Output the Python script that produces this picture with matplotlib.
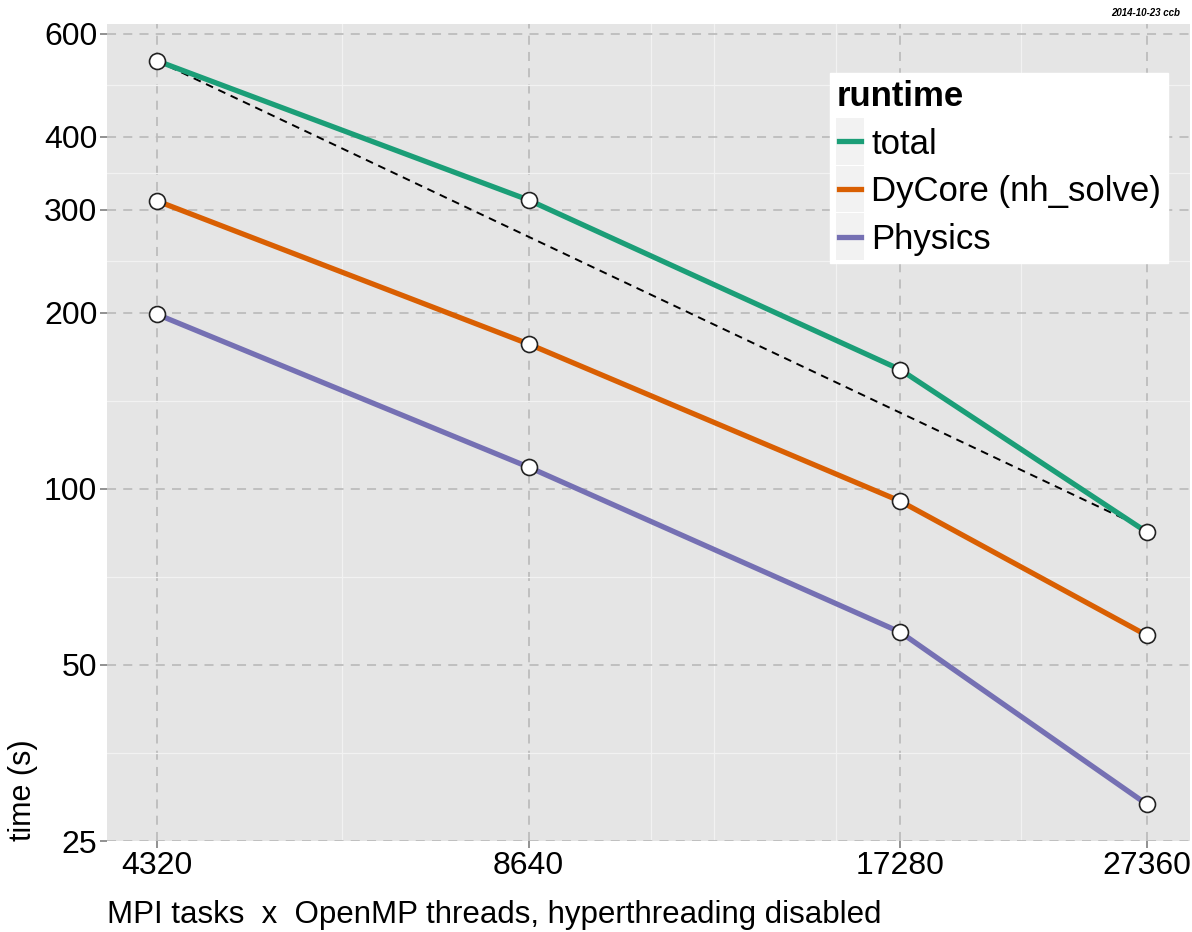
import numpy as np
import matplotlib
matplotlib.use('Agg')
import matplotlib.pyplot as plt
from matplotlib.ticker import FixedLocator, FixedFormatter, NullFormatter
from matplotlib.legend_handler import HandlerBase
from matplotlib.patches import Rectangle
from matplotlib.lines import Line2D

plt.rcParams['font.family'] = ['Liberation Sans', 'DejaVu Sans']

# dados
tarefas = [4320, 8640, 17280, 27360]
total = [540, 312, 160, 84.4]
dycore = [311, 177, 95.3, 56.2]
physics = [199, 109, 56.9, 28.9]
series = ['total', 'DyCore (nh_solve)', 'Physics']
cores = ['#1B9E77', '#D95F02', '#7570B3']

y_ticks = [25, 50, 100, 200, 300, 400, 600]
x_minor = [6100, 10850, 12210, 15340, 21650]

# escalonamento ideal a partir do primeiro ponto do total
ideal = [total[0] * tarefas[0] / t for t in tarefas]


class ChaveCinza(HandlerBase):
    # caixa cinza atras da linha, como no ggplot
    def create_artists(self, legend, orig_handle, xdescent, ydescent,
                       width, height, fontsize, trans):
        extra = 0.32 * fontsize
        r = Rectangle((-xdescent, -ydescent - extra), width, height + 2 * extra,
                      facecolor='#F2F2F2', edgecolor='none', transform=trans)
        y0 = height / 2 - ydescent
        l = Line2D([-xdescent + 0.1 * width, -xdescent + 0.9 * width], [y0, y0],
                   color=orig_handle.get_color(), linewidth=3.8, transform=trans)
        return [r, l]


fig = plt.figure(figsize=(11.92, 9.32), dpi=100)
ax = fig.add_axes([107 / 1192, 1 - 841 / 932, 1083 / 1192, 817 / 932])
ax.set_facecolor('#E5E5E5')
for s in ax.spines.values():
    s.set_visible(False)

ax.set_xscale('log')
ax.set_yscale('log')
ax.set_xlim(3937, 29660)
ax.set_ylim(25, 624)

ax.xaxis.set_major_locator(FixedLocator(tarefas))
ax.xaxis.set_minor_locator(FixedLocator(x_minor))
ax.xaxis.set_major_formatter(FixedFormatter([str(t) for t in tarefas]))
ax.xaxis.set_minor_formatter(NullFormatter())

y_minor = [np.sqrt(a * b) for a, b in zip(y_ticks[:-1], y_ticks[1:])]
ax.yaxis.set_major_locator(FixedLocator(y_ticks))
ax.yaxis.set_minor_locator(FixedLocator(y_minor))
ax.yaxis.set_major_formatter(FixedFormatter([str(t) for t in y_ticks]))
ax.yaxis.set_minor_formatter(NullFormatter())

ax.grid(which='minor', color='#F2F2F2', linewidth=0.9, linestyle='-')
ax.grid(which='major', color='#BDBDBD', linewidth=1.3, linestyle=(0, (5, 4)))
ax.set_axisbelow(True)

ax.tick_params(which='major', length=5, width=1.2, color='#7F7F7F',
               labelsize=23, labelcolor='black', pad=2)
ax.tick_params(which='minor', length=0)

ax.plot(tarefas, ideal, color='black', linewidth=1.4, linestyle=(0, (4, 3)), zorder=2)
linhas = []
for vals, nome, cor in zip([total, dycore, physics], series, cores):
    ln, = ax.plot(tarefas, vals, color=cor, linewidth=3.8, label=nome, zorder=3,
                  solid_capstyle='butt')
    linhas.append(ln)
    ax.plot(tarefas, vals, linestyle='none', marker='o', markersize=11.5,
            markerfacecolor='white', markeredgecolor='#222222', markeredgewidth=1.2,
            zorder=4)

ax.set_xlabel('MPI tasks  x  OpenMP threads, hyperthreading disabled',
              fontsize=22.5, loc='left', labelpad=14)
ax.set_ylabel('time (s)', fontsize=22, loc='bottom', labelpad=4)

leg = ax.legend(handles=linhas, loc='upper right',
                bbox_to_anchor=(1168 / 1192, 1 - 73 / 932),
                bbox_transform=fig.transFigure, title='runtime', fontsize=25,
                frameon=True, fancybox=False, handlelength=0.8, handletextpad=0.2,
                labelspacing=0.42, borderpad=0.2, borderaxespad=0,
                handler_map={Line2D: ChaveCinza()})
leg.get_title().set_fontweight('bold')
leg.get_title().set_fontsize(25)
leg._legend_box.align = 'left'
leg.get_frame().set_facecolor('white')
leg.get_frame().set_edgecolor('white')
leg.get_frame().set_alpha(1)

fig.text(1180 / 1192, 1 - 13 / 932, '2014-10-23 ccb', fontsize=7,
         fontweight='bold', fontstyle='italic', ha='right', va='center')

fig.savefig('out.png', dpi=100)
